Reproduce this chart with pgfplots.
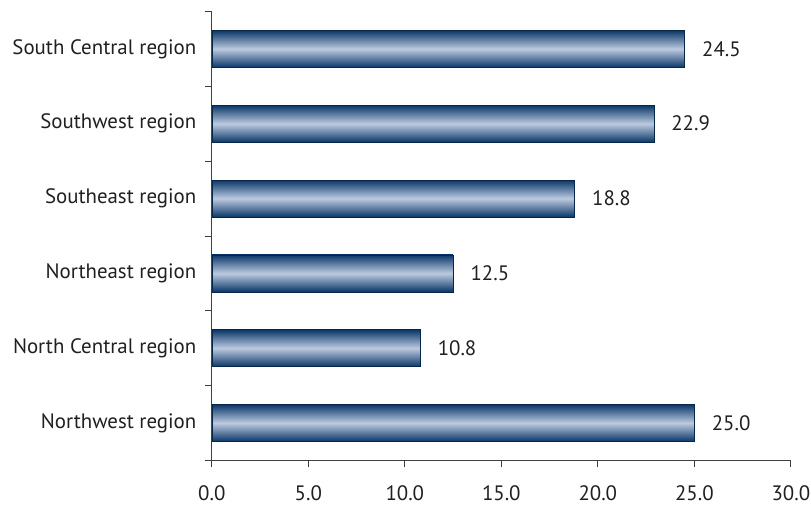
\documentclass[border=0pt]{standalone}
\usepackage{fontspec}
\setmainfont{PT Sans}
\usepackage{pgfplots}
\pgfplotsset{compat=1.18}
\definecolor{navyD}{HTML}{0A3768}
\definecolor{navyL}{HTML}{BCCAE0}
\definecolor{axgray}{HTML}{404040}
\definecolor{txt}{HTML}{231F20}
\begin{document}
\begin{tikzpicture}[font=\fontsize{21}{25}\selectfont]
\useasboundingbox (-212.3bp,-49.5bp) rectangle (600.7bp,461.5bp);
\begin{axis}[
  scale only axis, width=580.5bp, height=450bp,
  xbar, bar width=37bp, bar shift=0pt,
  xmin=0, xmax=30, ymin=-0.5, ymax=5.5,
  axis x line*=bottom, axis y line*=left,
  axis line style={axgray, line width=0.8pt, -},
  tick style={axgray, line width=0.8pt},
  tick align=outside, major tick length=7bp,
  xtick={0,5,...,30},
  /pgf/number format/assume math mode=true,
  x tick label style={/pgf/number format/fixed, /pgf/number format/fixed zerofill, /pgf/number format/precision=1, yshift=-15bp, text=txt},
  ytick={-0.5,0.5,...,5.5}, yticklabels={},
  extra y ticks={0,1,2,3,4,5},
  extra y tick labels={Northwest region, North Central region, Northeast region, Southeast region, Southwest region, South Central region},
  extra y tick style={major tick length=0pt, yticklabel style={xshift=-12bp, text=txt}},
  point meta=x,
  nodes near coords={\pgfmathprintnumber[fixed,fixed zerofill,precision=1,assume math mode=true]{\pgfplotspointmeta}},
  every node near coord/.append style={text=txt, anchor=west, xshift=14bp},
  clip=false,
  barsty/.style={draw=navyD!70!black, line width=0.5pt, top color=navyD, bottom color=navyD, middle color=navyL},
]
\addplot[barsty] coordinates {(25.0,0)};
\addplot[barsty] coordinates {(10.8,1)};
\addplot[barsty] coordinates {(12.5,2)};
\addplot[barsty] coordinates {(18.8,3)};
\addplot[barsty] coordinates {(22.9,4)};
\addplot[barsty] coordinates {(24.5,5)};
\end{axis}
\end{tikzpicture}
\end{document}
